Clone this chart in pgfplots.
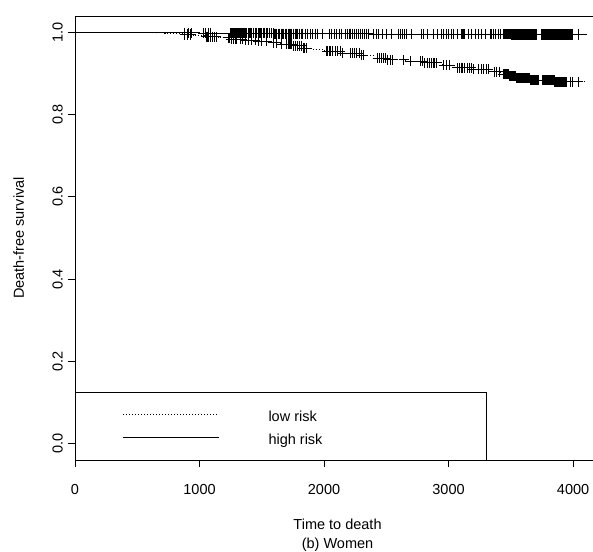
\documentclass[border=0pt]{standalone}
\usepackage{fontspec}
\setmainfont{Liberation Sans}
\usepackage{pgfplots}
\pgfplotsset{compat=1.18}

\begin{document}
\begin{tikzpicture}[font=\fontsize{14.5}{17}\selectfont]
\begin{axis}[
  scale only axis, width=518pt, height=444pt,
  xmin=0, xmax=4160, ymin=-0.04, ymax=1.04,
  axis y line*=left, y axis line style={-},
  axis line style={line width=0.8pt},
  xtick={0,1000,2000,3000,4000}, ytick={0,0.2,0.4,0.6,0.8,1.0},
  xtick pos=bottom, ytick pos=left,
  tick align=outside, major tick length=7pt,
  every tick/.style={black, line width=0.8pt},
  /pgf/number format/assume math mode=true,
  xticklabel style={/pgf/number format/1000 sep={}, anchor=north, inner sep=0pt},
  xticklabel shift=17pt,
  yticklabel style={/pgf/number format/fixed, /pgf/number format/fixed zerofill,
    /pgf/number format/precision=1, rotate=90, anchor=south, inner sep=0pt},
  yticklabel shift=5pt,
  xlabel={Time to death},
  every axis x label/.style={at={(rel axis cs:0.5068,0)}, anchor=base, yshift=-69.5pt},
  ylabel={Death-free survival},
  every axis y label/.style={at={(rel axis cs:0,0.5)}, xshift=-51pt, rotate=90, anchor=base},
  extra description/.code={
    \node[anchor=base] at ([yshift=-88.5pt]0.5068,0) {(b) Women};
    \draw[line width=0.8pt] (0,0) rectangle (0.7948,0.1525);
    \draw[line width=0.8pt, dash pattern=on 1pt off 2pt] (0.0932,0.1029) -- (0.278,0.1029);
    \draw[line width=0.8pt] (0.0932,0.0511) -- (0.278,0.0511);
    \node[anchor=base west, inner sep=0pt] at (0.3732,0.0867) {low risk};
    \node[anchor=base west, inner sep=0pt] at (0.3732,0.0349) {high risk};
    \coordinate (bl) at (0,0);
    \coordinate (tr) at (1,1);
  },
]
% high risk (solid, upper curve)
\addplot[const plot, black, line width=0.8pt, no marks] coordinates {
  (0,1.000) (850,0.999) (1000,0.998) (1600,0.997) (2400,0.996) (3500,0.995) (4110,0.995)
};
\addplot[only marks, black, mark=+, mark size=5pt, mark options={line width=0.8pt}] coordinates {
  (880,0.999) (910,0.999) (935,0.999)
  (1030,0.998) (1050,0.998) (1070,0.998) (1090,0.998)
  (1245,0.998) (1253,0.998) (1261,0.998) (1269,0.998) (1277,0.998) (1285,0.998) (1293,0.998)
  (1301,0.998) (1309,0.998) (1317,0.998) (1325,0.998) (1333,0.998) (1341,0.998)
  (1355,0.998) (1360,0.998) (1370,0.998) (1380,0.998) (1390,0.998) (1400,0.998) (1410,0.998)
  (1420,0.998) (1430,0.998) (1445,0.998) (1455,0.998) (1470,0.998) (1480,0.998) (1490,0.998)
  (1500,0.998) (1510,0.998) (1520,0.998) (1535,0.998) (1545,0.998) (1560,0.998) (1575,0.998) (1590,0.998)
  (1600,0.997) (1610,0.997) (1620,0.997) (1630,0.997) (1645,0.997) (1655,0.997) (1665,0.997)
  (1675,0.997) (1690,0.997) (1700,0.997) (1710,0.997) (1720,0.997) (1730,0.997) (1740,0.997)
  (1755,0.997) (1770,0.997) (1780,0.997) (1790,0.997) (1800,0.997) (1815,0.997) (1830,0.997)
  (1850,0.997) (1870,0.997) (1890,0.997) (1910,0.997) (1930,0.997)
  (1950,0.997) (1990,0.997) (2040,0.997) (2060,0.997) (2080,0.997) (2100,0.997) (2120,0.997)
  (2140,0.997) (2170,0.997) (2190,0.997) (2200,0.997) (2215,0.997)
  (2230,0.997) (2245,0.997) (2260,0.997) (2275,0.997) (2290,0.997) (2310,0.997) (2325,0.997)
  (2340,0.997) (2360,0.997)
  (2400,0.996) (2420,0.996) (2440,0.996) (2470,0.996) (2500,0.996) (2540,0.996) (2600,0.996)
  (2615,0.996) (2630,0.996) (2645,0.996) (2660,0.996) (2700,0.996) (2780,0.996) (2800,0.996)
  (2830,0.996) (2880,0.996) (2910,0.996) (2940,0.996) (2960,0.996) (2980,0.996) (3000,0.996)
  (3020,0.996) (3040,0.996) (3070,0.996) (3100,0.996) (3110,0.996) (3120,0.996) (3130,0.996)
  (3160,0.996) (3186,0.996) (3213,0.996) (3240,0.996) (3267,0.996) (3293,0.996) (3333,0.996)
  (3345,0.996) (3360,0.996) (3380,0.996) (3400,0.996) (3420,0.996) (3438,0.996) (3446,0.996)
  (3454,0.996) (3462,0.996) (3470,0.996) (3478,0.996) (3486,0.996) (3494,0.996)
  (3502,0.995) (3510,0.995) (3518,0.995) (3526,0.995) (3534,0.995) (3542,0.995) (3550,0.995)
  (3558,0.995) (3566,0.995) (3574,0.995) (3582,0.995) (3590,0.995) (3598,0.995) (3606,0.995)
  (3614,0.995) (3622,0.995) (3630,0.995) (3638,0.995) (3646,0.995) (3654,0.995) (3662,0.995)
  (3670,0.995) (3678,0.995) (3686,0.995) (3694,0.995) (3702,0.995)
  (3746,0.995) (3754,0.995) (3762,0.995) (3770,0.995) (3778,0.995) (3786,0.995) (3794,0.995)
  (3802,0.995) (3810,0.995) (3818,0.995) (3826,0.995) (3834,0.995) (3842,0.995) (3850,0.995)
  (3858,0.995) (3866,0.995) (3874,0.995) (3882,0.995) (3890,0.995) (3898,0.995) (3906,0.995)
  (3914,0.995) (3922,0.995) (3930,0.995) (3938,0.995) (3946,0.995) (3954,0.995) (3962,0.995)
  (3970,0.995) (3978,0.995) (3986,0.995) (3994,0.995) (4040,0.995)
};
% low risk (dotted, lower curve)
\addplot[const plot, black, line width=0.8pt, dash pattern=on 1pt off 2pt, no marks] coordinates {
  (0,1.000) (650,0.999) (720,0.998) (800,0.997) (870,0.995) (950,0.993) (1050,0.990)
  (1150,0.987) (1250,0.984) (1350,0.981) (1450,0.978) (1550,0.975) (1650,0.972) (1750,0.968)
  (1830,0.962) (1900,0.958) (2000,0.954) (2150,0.950) (2300,0.945) (2400,0.938) (2500,0.934)
  (2650,0.930) (2800,0.926) (2950,0.920) (3050,0.914) (3200,0.910) (3350,0.905) (3420,0.898)
  (3480,0.893) (3540,0.888) (3650,0.884) (3850,0.880) (4090,0.880)
};
\addplot[only marks, black, mark=+, mark size=5pt, mark options={line width=0.8pt, solid}] coordinates {
  (880,0.995) (905,0.995) (930,0.995)
  (1055,0.990) (1065,0.990) (1075,0.990) (1090,0.990) (1100,0.990) (1120,0.990) (1135,0.990)
  (1230,0.987) (1240,0.987)
  (1255,0.984) (1270,0.984) (1285,0.984) (1300,0.984) (1325,0.984) (1345,0.984)
  (1365,0.981) (1390,0.981) (1418,0.981) (1445,0.981)
  (1472,0.978) (1500,0.978) (1540,0.978)
  (1590,0.975) (1620,0.975)
  (1660,0.972) (1700,0.972) (1710,0.972) (1720,0.972) (1730,0.972) (1740,0.972)
  (1755,0.968) (1770,0.968) (1785,0.968) (1800,0.968) (1815,0.968)
  (1835,0.962) (1845,0.962) (1860,0.962)
  (2020,0.954) (2030,0.954) (2040,0.954) (2055,0.954) (2070,0.954) (2090,0.954) (2110,0.954) (2130,0.954)
  (2150,0.950) (2210,0.950) (2225,0.950) (2240,0.950) (2260,0.950) (2280,0.950)
  (2300,0.945) (2315,0.945)
  (2430,0.938) (2445,0.938) (2460,0.938) (2475,0.938) (2490,0.938)
  (2510,0.934) (2530,0.934) (2550,0.934) (2640,0.934)
  (2690,0.930) (2770,0.930) (2790,0.930)
  (2810,0.926) (2830,0.926) (2850,0.926) (2860,0.926) (2875,0.926) (2890,0.926) (2905,0.926)
  (2960,0.920) (2980,0.920) (3010,0.920)
  (3070,0.914) (3085,0.914) (3100,0.914) (3115,0.914) (3130,0.914) (3150,0.914) (3165,0.914) (3180,0.914)
  (3200,0.910) (3240,0.910) (3260,0.910) (3280,0.910) (3300,0.910) (3320,0.910)
  (3365,0.905) (3385,0.905) (3405,0.905)
  (3438,0.898) (3446,0.898) (3454,0.898) (3462,0.898) (3470,0.898) (3478,0.898)
  (3486,0.893) (3494,0.893) (3502,0.893) (3510,0.893) (3518,0.893) (3526,0.893) (3534,0.893)
  (3542,0.888) (3550,0.888) (3558,0.888) (3566,0.888) (3574,0.888) (3582,0.888) (3590,0.888)
  (3598,0.888) (3606,0.888) (3614,0.888) (3622,0.888) (3630,0.888) (3638,0.888) (3646,0.888)
  (3654,0.884) (3662,0.884) (3670,0.884) (3678,0.884) (3686,0.884) (3694,0.884) (3702,0.884)
  (3710,0.884) (3718,0.884)
  (3750,0.884) (3758,0.884) (3766,0.884) (3774,0.884) (3782,0.884) (3790,0.884) (3798,0.884)
  (3806,0.884) (3814,0.884) (3822,0.884) (3830,0.884) (3838,0.884) (3846,0.884)
  (3854,0.880) (3862,0.880) (3870,0.880) (3878,0.880) (3886,0.880) (3894,0.880) (3902,0.880)
  (3910,0.880) (3918,0.880) (3926,0.880) (3934,0.880) (3942,0.880) (3950,0.880)
  (3975,0.880) (3995,0.880) (4040,0.880)
};
\end{axis}
\pgfresetboundingbox
\path[use as bounding box] ([shift={(-75pt,-92pt)}]bl) rectangle ([shift={(0pt,16pt)}]tr);
\end{tikzpicture}
\end{document}
